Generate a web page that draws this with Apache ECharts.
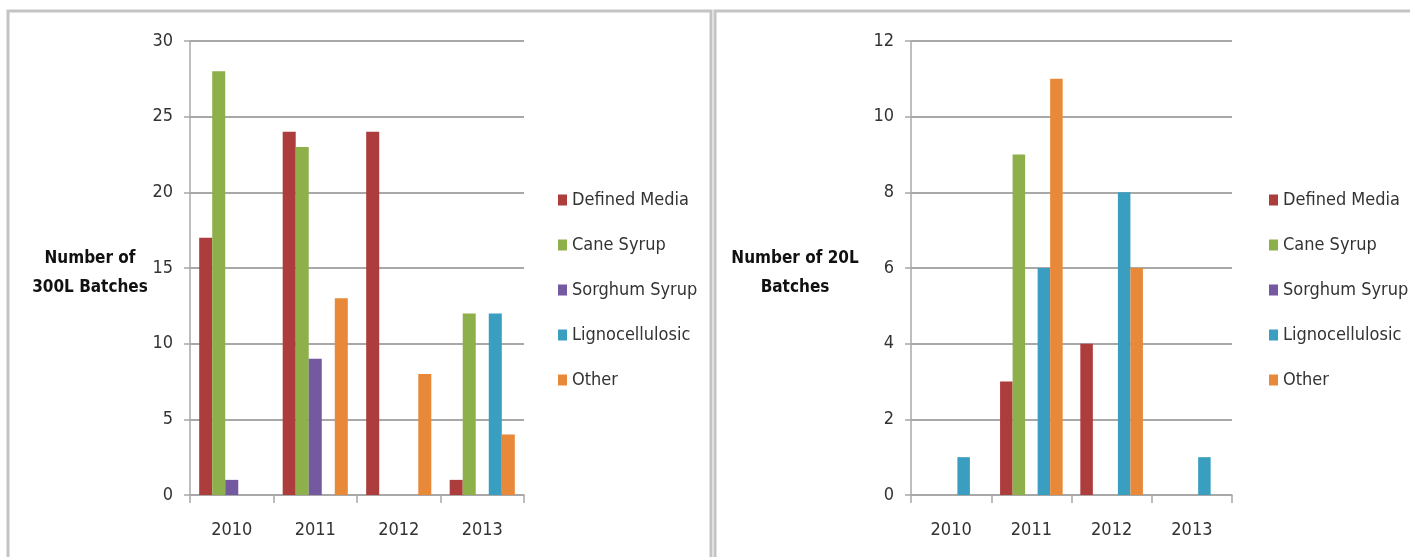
<!DOCTYPE html>
<html>
<head>
<meta charset="utf-8">
<script src="https://cdn.jsdelivr.net/npm/echarts@6/dist/echarts.min.js"></script>
<style>
  html, body { margin: 0; padding: 0; background: #fff; }
  #chart { width: 1410px; height: 557px; }
</style>
</head>
<body>
<div id="chart"></div>
<script>
// categories
const years = ['2010', '2011', '2012', '2013']
const seriesNames = ['Defined Media', 'Cane Syrup', 'Sorghum Syrup', 'Lignocellulosic', 'Other']

// 300L batches (left chart)
const definedMedia300 = [17, 24, 24, 1]
const caneSyrup300 = [28, 23, 0, 12]
const sorghumSyrup300 = [1, 9, 0, 0]
const ligno300 = [0, 0, 0, 12]
const other300 = [0, 13, 8, 4]

// 20L batches (right chart)
const definedMedia20 = [0, 3, 4, 0]
const caneSyrup20 = [0, 9, 0, 0]
const sorghumSyrup20 = [0, 0, 0, 0]
const ligno20 = [1, 6, 8, 1]
const other20 = [0, 11, 6, 0]

const colorArr = ['#ad3c3c', '#8db04a', '#7559a0', '#3a9ec0', '#e8893a']
const fontFam = '"Liberation Sans Narrow", "DejaVu Sans Condensed", "Open Sans", sans-serif'

let chart = echarts.init(document.getElementById('chart'))

let gridLine = { color: '#a8a8a8', width: 2, type: 'solid' }

function xAxisOf(idx) {
    return {
        type: 'category',
        gridIndex: idx,
        data: years,
        axisLine: { lineStyle: { color: '#a8a8a8', width: 1.5 } },
        axisTick: { show: true, length: 8, lineStyle: { color: '#a8a8a8', width: 1.5 } },
        axisLabel: { color: '#333', fontSize: 18, fontFamily: fontFam, margin: 26 }
    }
}
function yAxisOf(idx, max, step) {
    return {
        type: 'value',
        gridIndex: idx,
        min: 0,
        max: max,
        interval: step,
        axisLine: { show: true, lineStyle: { color: '#a8a8a8', width: 1.5 } },
        axisTick: { show: true, length: 6, lineStyle: { color: '#a8a8a8', width: 1.5 } },
        splitLine: { show: true, lineStyle: gridLine },
        axisLabel: { color: '#333', fontSize: 18, fontFamily: fontFam, margin: 17 }
    }
}
function barsOf(idx, list) {
    return list.map((d, i) => ({
        name: seriesNames[i],
        type: 'bar',
        xAxisIndex: idx,
        yAxisIndex: idx,
        data: d,
        barGap: '0%',
        barCategoryGap: '22%',
        itemStyle: { color: colorArr[i] }
    }))
}
function legendOf(left) {
    return {
        orient: 'vertical',
        left: left,
        top: 185,
        itemWidth: 9,
        itemHeight: 11,
        itemGap: 25,
        icon: 'rect',
        data: seriesNames,
        textStyle: { color: '#333', fontSize: 18, fontFamily: fontFam, lineHeight: 20 }
    }
}

let option = {
    backgroundColor: '#fff',
    animation: false,
    color: colorArr,
    grid: [
        { left: 190, right: 886, top: 41, bottom: 62 },
        { left: 911, right: 178, top: 41, bottom: 62 }
    ],
    xAxis: [xAxisOf(0), xAxisOf(1)],
    yAxis: [yAxisOf(0, 30, 5), yAxisOf(1, 12, 2)],
    legend: [legendOf(553), legendOf(1264)],
    graphic: [
        { type: 'rect', shape: { x: 8, y: 11, width: 703, height: 580 }, style: { fill: 'none', stroke: '#c4c4c4', lineWidth: 3 } },
        { type: 'rect', shape: { x: 715, y: 11, width: 720, height: 580 }, style: { fill: 'none', stroke: '#c4c4c4', lineWidth: 3 } },
        { type: 'text', x: 90, y: 244, style: { text: 'Number of\n300L Batches', align: 'center', lineHeight: 29, fill: '#111', fontSize: 17, fontWeight: 'bold', fontFamily: fontFam } },
        { type: 'text', x: 795, y: 244, style: { text: 'Number of 20L\nBatches', align: 'center', lineHeight: 29, fill: '#111', fontSize: 17, fontWeight: 'bold', fontFamily: fontFam } }
    ],
    series: [
        ...barsOf(0, [definedMedia300, caneSyrup300, sorghumSyrup300, ligno300, other300]),
        ...barsOf(1, [definedMedia20, caneSyrup20, sorghumSyrup20, ligno20, other20])
    ]
}
chart.setOption(option)
</script>
</body>
</html>
